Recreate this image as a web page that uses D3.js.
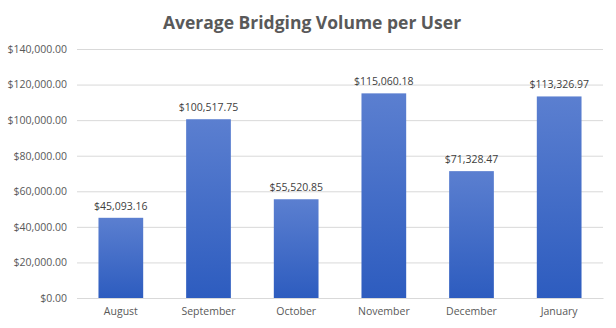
<!DOCTYPE html>
<html><head><meta charset="utf-8">
<script src="https://cdn.jsdelivr.net/npm/d3@7"></script>
<style>body{margin:0;background:#fff}svg{display:block}</style>
</head><body>
<script>
const categories = ["August","September","October","November","December","January"];
const values = [45093.16,100517.75,55520.85,115060.18,71328.47,113326.97];
const yTicks = [0,20000,40000,60000,80000,100000,120000,140000];
const title = "Average Bridging Volume per User";

const W=616,H=328, m={l:77,r:13,t:49,b:30};
const svg=d3.select("body").append("svg").attr("width",W).attr("height",H);
const defs=svg.append("defs");
const g=defs.append("linearGradient").attr("id","bg").attr("x1",0).attr("y1",0).attr("x2",0).attr("y2",1);
g.append("stop").attr("offset","0%").attr("stop-color","#5b7fd0");
g.append("stop").attr("offset","100%").attr("stop-color","#2d5cbf");

const x=d3.scaleBand().domain(categories).range([m.l,W-m.r]).paddingInner(0.49).paddingOuter(0.245);
const y=d3.scaleLinear().domain([0,140000]).range([H-m.b,m.t]);
const font="Open Sans, Lato, sans-serif";

svg.append("text").attr("x",312).attr("y",29).attr("text-anchor","middle")
 .attr("font-family",font).attr("font-weight","bold").attr("font-size",17.5).attr("fill","#595959").text(title);

const ya=svg.append("g").attr("transform",`translate(${m.l},0)`)
 .call(d3.axisLeft(y).tickValues(yTicks).tickSize(-(W-m.l-m.r)).tickPadding(10).tickFormat(d=>"$"+d3.format(",.2f")(d)));
ya.select(".domain").remove();
ya.selectAll("line").attr("stroke","#d9d9d9");
ya.selectAll("text").attr("font-family",font).attr("font-size",10.5).attr("fill","#595959");

const xa=svg.append("g").attr("transform",`translate(0,${H-m.b})`).call(d3.axisBottom(x).tickSize(0).tickPadding(10));
xa.select(".domain").attr("stroke","#d9d9d9");
xa.selectAll("text").attr("font-family",font).attr("font-size",10.5).attr("fill","#595959");

svg.append("g").selectAll("rect").data(values).join("rect")
 .attr("x",(d,i)=>x(categories[i])).attr("width",x.bandwidth())
 .attr("y",d=>y(d)).attr("height",d=>y(0)-y(d)).attr("fill","url(#bg)");

svg.append("g").selectAll("text").data(values).join("text")
 .attr("x",(d,i)=>x(categories[i])+x.bandwidth()/2).attr("y",d=>y(d)-8)
 .attr("text-anchor","middle").attr("font-family",font).attr("font-size",10.5).attr("fill","#404040")
 .text(d=>"$"+d3.format(",.2f")(d));
</script>
</body></html>
